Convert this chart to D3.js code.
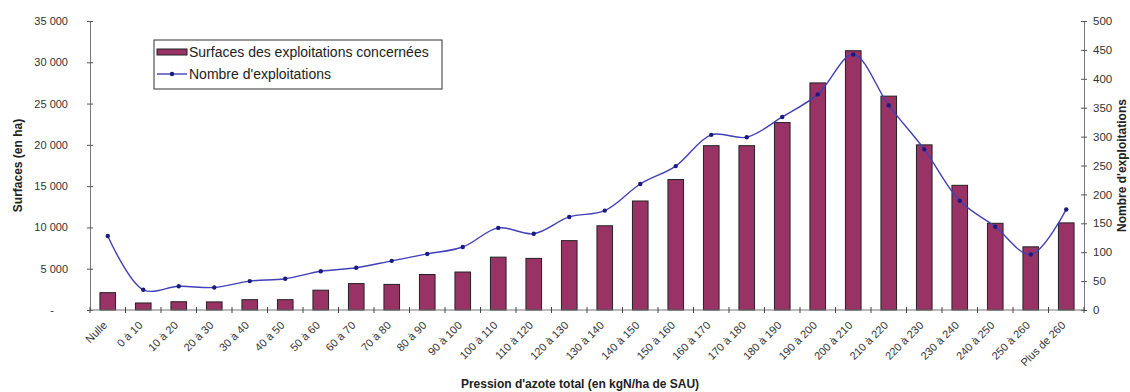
<!DOCTYPE html>
<meta charset="utf-8">
<title>Pression d'azote total</title>
<style>
    body { margin: 0; background: #fff; }
    svg { display: block; font-family: "Liberation Sans", Arial, sans-serif; }
    .tick text { fill: #333; }
</style>
<body>
<div id="chart"></div>
<script src="https://d3js.org/d3.v7.min.js"></script>
<script>
// classes de pression d'azote
var categories = ["Nulle", "0 à 10", "10 à 20", "20 à 30", "30 à 40", "40 à 50", "50 à 60",
    "60 à 70", "70 à 80", "80 à 90", "90 à 100", "100 à 110", "110 à 120", "120 à 130",
    "130 à 140", "140 à 150", "150 à 160", "160 à 170", "170 à 180", "180 à 190",
    "190 à 200", "200 à 210", "210 à 220", "220 à 230", "230 à 240", "240 à 250",
    "250 à 260", "Plus de 260"];

// surfaces (ha)
var surfaces = [2100, 850, 1000, 980, 1250, 1250, 2400, 3200, 3100, 4300, 4600, 6400, 6250,
    8400, 10200, 13200, 15800, 19900, 19900, 22700, 27500, 31400, 25900, 20000, 15100,
    10500, 7650, 10550];

// nombre d'exploitations
var exploitations = [128, 35, 41, 39, 50, 54, 67, 73, 85, 97, 109, 142, 132, 161, 172, 218,
    249, 303, 299, 334, 373, 442, 354, 278, 189, 144, 96, 174];

var leftTicks = [0, 5000, 10000, 15000, 20000, 25000, 30000, 35000];
var rightTicks = [0, 50, 100, 150, 200, 250, 300, 350, 400, 450, 500];

var W = 1130, H = 392;
var margin = { top: 21, right: 46, bottom: 82, left: 90 };
var x0 = margin.left, x1 = W - margin.right, yTop = margin.top, yBot = H - margin.bottom;

var svg = d3.select("#chart").append("svg")
    .attr("width", W)
    .attr("height", H);

var x = d3.scaleBand().domain(categories).range([x0, x1])
    .paddingInner(0.56).paddingOuter(0.28);
var y0 = d3.scaleLinear().domain([0, 35000]).range([yBot, yTop]);
var y1 = d3.scaleLinear().domain([0, 500]).range([yBot, yTop]);

var fmt = function (d) { return d === 0 ? "-" : d3.format(",")(d).replace(/,/g, " "); };

// left axis
var gl = svg.append("g")
    .attr("transform", "translate(" + x0 + ",0)")
    .call(d3.axisLeft(y0).tickValues(leftTicks).tickFormat(fmt).tickSize(3).tickPadding(19));
gl.selectAll(".tick line").attr("x2", 3).attr("x1", -3).attr("stroke", "#555");
gl.selectAll(".tick text").attr("font-size", "11px").attr("font-family", "Liberation Sans, Arial")
    .attr("dx", function (d) { return d === 0 ? "-14" : "0"; });
gl.select(".domain").attr("stroke", "#777");

// right axis
var gr = svg.append("g")
    .attr("transform", "translate(" + x1 + ",0)")
    .call(d3.axisRight(y1).tickValues(rightTicks).tickSize(3).tickPadding(6));
gr.selectAll(".tick line").attr("x1", -3).attr("x2", 3).attr("stroke", "#555");
gr.selectAll(".tick text").attr("font-size", "11.5px").attr("font-family", "Liberation Sans, Arial");
gr.select(".domain").attr("stroke", "#777");

// bars
svg.append("g").selectAll("rect")
    .data(surfaces)
    .join("rect")
    .attr("x", function (d, i) { return x(categories[i]); })
    .attr("width", x.bandwidth())
    .attr("y", function (d) { return y0(d); })
    .attr("height", function (d) { return yBot - y0(d); })
    .attr("fill", "#993366")
    .attr("stroke", "#222")
    .attr("stroke-width", 1);

// x axis line with boundary ticks
var step = x.step();
var gx = svg.append("g");
gx.append("line")
    .attr("x1", x0).attr("x2", x1).attr("y1", yBot).attr("y2", yBot)
    .attr("stroke", "#777");
gx.selectAll("line.tk")
    .data(d3.range(categories.length + 1))
    .join("line")
    .attr("class", "tk")
    .attr("x1", function (i) { return x0 + i * step; })
    .attr("x2", function (i) { return x0 + i * step; })
    .attr("y1", yBot - 3).attr("y2", yBot + 3)
    .attr("stroke", "#444");
gx.selectAll("text")
    .data(categories)
    .join("text")
    .attr("transform", function (d) {
        return "translate(" + (x(d) + x.bandwidth() / 2) + "," + (yBot + 16) + ") rotate(-45)";
    })
    .attr("text-anchor", "end")
    .attr("font-size", "11px")
    .attr("fill", "#333")
    .text(function (d) { return d; });

// line
var cx = function (d, i) { return x(categories[i]) + x.bandwidth() / 2; };
var line = d3.line()
    .x(cx)
    .y(function (d) { return y1(d); })
    .curve(d3.curveCatmullRom.alpha(0.5));
svg.append("path")
    .datum(exploitations)
    .attr("d", line)
    .attr("fill", "none")
    .attr("stroke", "#4040b8")
    .attr("stroke-width", 1.4);
svg.append("g").selectAll("circle")
    .data(exploitations)
    .join("circle")
    .attr("cx", cx)
    .attr("cy", function (d) { return y1(d); })
    .attr("r", 2.2)
    .attr("fill", "#1a1a80");

// axis titles
svg.append("text")
    .attr("transform", "translate(22," + ((yTop + yBot) / 2) + ") rotate(-90)")
    .attr("text-anchor", "middle")
    .attr("font-size", "12px")
    .attr("font-weight", "bold")
    .attr("fill", "#222")
    .text("Surfaces (en ha)");
svg.append("text")
    .attr("transform", "translate(1126," + ((yTop + yBot) / 2) + ") rotate(-90)")
    .attr("text-anchor", "middle")
    .attr("font-size", "12px")
    .attr("font-weight", "bold")
    .attr("fill", "#222")
    .text("Nombre d'exploitations");
svg.append("text")
    .attr("x", (x0 + x1) / 2 - 7)
    .attr("y", 388)
    .attr("text-anchor", "middle")
    .attr("font-size", "12px")
    .attr("font-weight", "bold")
    .attr("fill", "#222")
    .text("Pression d'azote total (en kgN/ha de SAU)");

// legend
var lg = svg.append("g").attr("transform", "translate(154,40)");
lg.append("rect")
    .attr("width", 288).attr("height", 49)
    .attr("fill", "#fff").attr("stroke", "#333");
lg.append("rect")
    .attr("x", 3).attr("y", 9).attr("width", 30).attr("height", 6)
    .attr("fill", "#993366").attr("stroke", "#222");
lg.append("text")
    .attr("x", 35).attr("y", 17)
    .attr("font-size", "14px").attr("fill", "#222")
    .text("Surfaces des exploitations concernées");
lg.append("line")
    .attr("x1", 3).attr("x2", 33).attr("y1", 34).attr("y2", 34)
    .attr("stroke", "#4040b8").attr("stroke-width", 1.4);
lg.append("circle")
    .attr("cx", 18).attr("cy", 34).attr("r", 2.2).attr("fill", "#1a1a80");
lg.append("text")
    .attr("x", 35).attr("y", 39)
    .attr("font-size", "14px").attr("fill", "#222")
    .text("Nombre d'exploitations");
</script>
</body>
